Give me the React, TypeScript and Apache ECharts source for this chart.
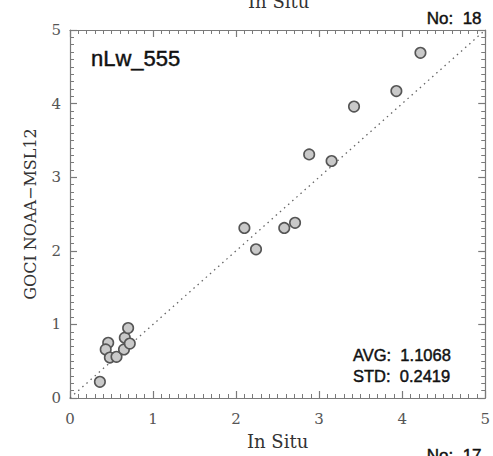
import React, { useEffect, useRef } from "react";
import * as echarts from "echarts";

// Data
const inSitu = [0.36, 0.46, 0.43, 0.48, 0.56, 0.65, 0.66, 0.72, 0.70, 2.10, 2.24, 2.58, 2.71, 2.88, 3.15, 3.42, 3.93, 4.22];
const gociNoaa = [0.22, 0.75, 0.66, 0.55, 0.56, 0.66, 0.82, 0.74, 0.95, 2.31, 2.02, 2.31, 2.38, 3.31, 3.22, 3.96, 4.17, 4.69];
const oneToOneStart = [0, 0];
const oneToOneEnd = [5, 5];
const axisMin = 0;
const axisMax = 5;
const axisStep = 1;

const panelTitle = "nLw_555";
const countText = "No:  18";
const avgText = "AVG:  1.1068";
const stdText = "STD:  0.2419";
const xName = "In Situ";
const yName = "GOCI NOAA\u2212MSL12";
const prevPanelXName = "In Situ";
const nextPanelCount = "No:  17";

const AXIS_COLOR = "#7a7a7a";
const SERIF = "DejaVu Serif";
const SANS = "Liberation Sans";

function ax(position: string, extra: any) {
  return {
    type: "value",
    position,
    gridIndex: 0,
    min: axisMin,
    max: axisMax,
    interval: axisStep,
    axisLine: { show: true, onZero: false, lineStyle: { color: AXIS_COLOR, width: 1.2 } },
    axisTick: { show: true, inside: true, length: 7, lineStyle: { color: AXIS_COLOR, width: 1.2 } },
    minorTick: { show: true, splitNumber: 10, length: 4, lineStyle: { color: AXIS_COLOR, width: 1 } },
    splitLine: { show: false },
    ...extra,
  };
}

function sansTitle(text: string, size: number, pos: any) {
  return {
    text,
    padding: 0,
    ...pos,
    textStyle: {
      fontFamily: SANS,
      fontSize: size,
      fontWeight: "normal",
      color: "#111",
      textBorderColor: "#111",
      textBorderWidth: 0.45,
    },
  };
}

export default function App() {
  const ref = useRef<HTMLDivElement>(null);
  useEffect(() => {
    if (!ref.current) return;
    const chart = echarts.init(ref.current, null, { renderer: "svg" });
    const points = inSitu.map((x, i) => [x, gociNoaa[i]]);
    chart.setOption({
      animation: false,
      title: [
        sansTitle(panelTitle, 22, { left: 91, top: 47 }),
        sansTitle(countText, 17, { right: 11, top: 10 }),
        sansTitle(avgText, 16.5, { left: 353, top: 346 }),
        sansTitle(stdText, 16.5, { left: 353, top: 367 }),
        sansTitle(nextPanelCount, 17, { right: 11, top: 447 }),
        {
          text: prevPanelXName,
          padding: 0,
          left: 248,
          top: -8,
          textStyle: { fontFamily: SERIF, fontSize: 18, fontWeight: "normal", color: "#333" },
        },
      ],
      grid: [{ left: 70, top: 30, width: 419, height: 368 }],
      xAxis: [
        ax("bottom", {
          name: xName,
          nameLocation: "middle",
          nameGap: 34,
          nameTextStyle: { fontFamily: SERIF, fontSize: 18, color: "#333" },
          axisLabel: { show: true, margin: 13, fontFamily: SERIF, fontSize: 15, color: "#555" },
        }),
        ax("top", { axisLabel: { show: false } }),
      ],
      yAxis: [
        ax("left", {
          name: yName,
          nameLocation: "middle",
          nameGap: 32,
          nameRotate: 90,
          nameTextStyle: { fontFamily: SERIF, fontSize: 16, color: "#333" },
          axisLabel: { show: true, margin: 9, fontFamily: SERIF, fontSize: 15, color: "#555" },
        }),
        ax("right", { axisLabel: { show: false } }),
      ],
      series: [
        {
          type: "scatter",
          xAxisIndex: 0,
          yAxisIndex: 0,
          data: points,
          symbol: "circle",
          symbolSize: 10.5,
          itemStyle: { color: "#c9c9c9", borderColor: "#555", borderWidth: 1.6, opacity: 1 },
          markLine: {
            silent: true,
            symbol: ["none", "none"],
            label: { show: false },
            lineStyle: { color: "#666", width: 1.3, type: [1.5, 4] },
            data: [[{ coord: oneToOneStart }, { coord: oneToOneEnd }]],
            z: 1,
          },
        },
      ],
    });
    return () => chart.dispose();
  }, []);
  return (
    <div
      ref={ref}
      style={{ position: "fixed", left: 0, top: 0, width: 493, height: 456, background: "#fff" }}
    />
  );
}
